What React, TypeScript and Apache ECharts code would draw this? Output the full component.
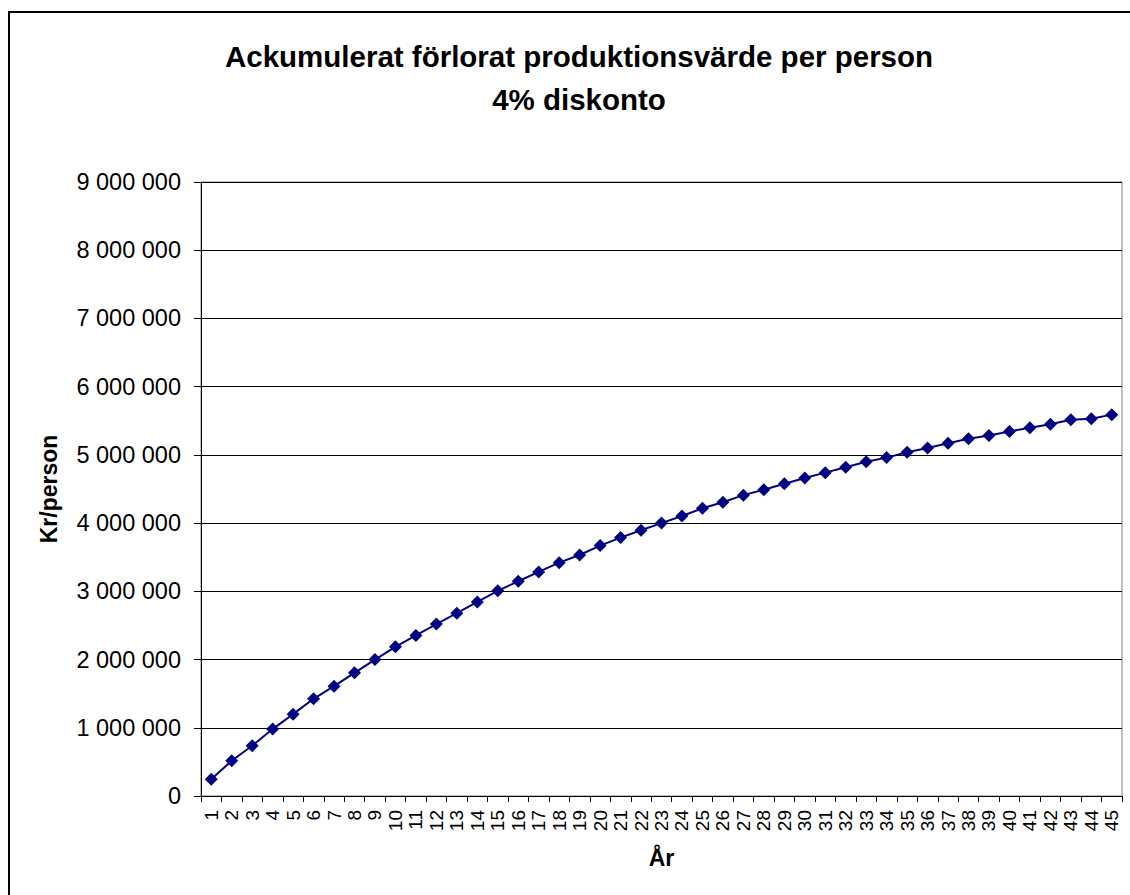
import React, { useEffect, useRef } from "react";
import * as echarts from "echarts";

const titleLine1 = "Ackumulerat förlorat produktionsvärde per person";
const titleLine2 = "4% diskonto";
const yAxisName = "Kr/person";
const xAxisName = "År";

const years: string[] = [
  "1","2","3","4","5","6","7","8","9","10","11","12","13","14","15",
  "16","17","18","19","20","21","22","23","24","25","26","27","28","29","30",
  "31","32","33","34","35","36","37","38","39","40","41","42","43","44","45",
];

const values: number[] = [
  245000, 517000, 737000, 981000, 1200000, 1425000, 1610000, 1805000, 2000000, 2186000,
  2353000, 2520000, 2680000, 2845000, 3008000, 3148000, 3284000, 3420000, 3533000, 3670000,
  3788000, 3895000, 4000000, 4104000, 4217000, 4305000, 4410000, 4490000, 4578000, 4660000,
  4740000, 4820000, 4900000, 4960000, 5040000, 5100000, 5170000, 5237000, 5285000, 5344000,
  5398000, 5450000, 5515000, 5530000, 5590000,
];

const yMin = 0;
const yMax = 9000000;
const yStep = 1000000;

const fmt = (v: number) => String(Math.round(v)).replace(/\B(?=(\d{3})+(?!\d))/g, " ");

export default function App() {
  const ref = useRef<HTMLDivElement>(null);
  useEffect(() => {
    if (!ref.current) return;
    const chart = echarts.init(ref.current, null, { renderer: "svg" });
    chart.setOption({
      animation: false,
      backgroundColor: "#ffffff",
      textStyle: { fontFamily: "Liberation Sans, Arial, sans-serif" },
      title: {
        text: titleLine1 + "\n" + titleLine2,
        left: 574,
        top: 30,
        textAlign: "center",
        textStyle: {
          fontFamily: "Liberation Sans, Arial, sans-serif",
          fontSize: 29.5,
          fontWeight: "bold",
          color: "#000",
          lineHeight: 43,
          align: "center",
        },
      },
      graphic: [
        {
          type: "rect",
          shape: { x: 9, y: 12, width: 1300, height: 1100 },
          style: { fill: "none", stroke: "#000", lineWidth: 2 },
          silent: true,
          z: 100,
        },
      ],
      grid: {
        left: 201,
        top: 182,
        right: 8,
        bottom: 99,
        show: true,
        borderColor: "#808080",
        borderWidth: 1,
        backgroundColor: "#ffffff",
      },
      xAxis: {
        type: "category",
        data: years,
        boundaryGap: true,
        name: xAxisName,
        nameLocation: "middle",
        nameGap: 50,
        nameTextStyle: { fontSize: 23, fontWeight: "bold", color: "#000" },
        axisLine: { lineStyle: { color: "#000", width: 1 } },
        axisTick: { show: true, length: 6, interval: 0, alignWithLabel: false, lineStyle: { color: "#000" } },
        axisLabel: { interval: 0, rotate: 90, margin: 14, fontSize: 19, color: "#000" },
        splitLine: { show: false },
      },
      yAxis: {
        type: "value",
        min: yMin,
        max: yMax,
        interval: yStep,
        name: yAxisName,
        nameLocation: "middle",
        nameGap: 141,
        nameTextStyle: { fontSize: 23, fontWeight: "bold", color: "#000" },
        axisLine: { show: true, lineStyle: { color: "#000", width: 1 } },
        axisTick: { show: true, length: 7, lineStyle: { color: "#000" } },
        axisLabel: { margin: 20, fontSize: 23.5, color: "#000", formatter: (v: number) => fmt(v) },
        splitLine: { show: true, lineStyle: { color: "#000", width: 1 } },
      },
      series: [
        {
          type: "line",
          data: values,
          symbol: "diamond",
          symbolSize: 13,
          lineStyle: { color: "#000080", width: 2 },
          itemStyle: { color: "#000080" },
          smooth: false,
        },
      ],
    });
    return () => chart.dispose();
  }, []);
  return (
    <div
      ref={ref}
      style={{ position: "fixed", left: 0, top: 0, width: 1130, height: 895 }}
    />
  );
}
